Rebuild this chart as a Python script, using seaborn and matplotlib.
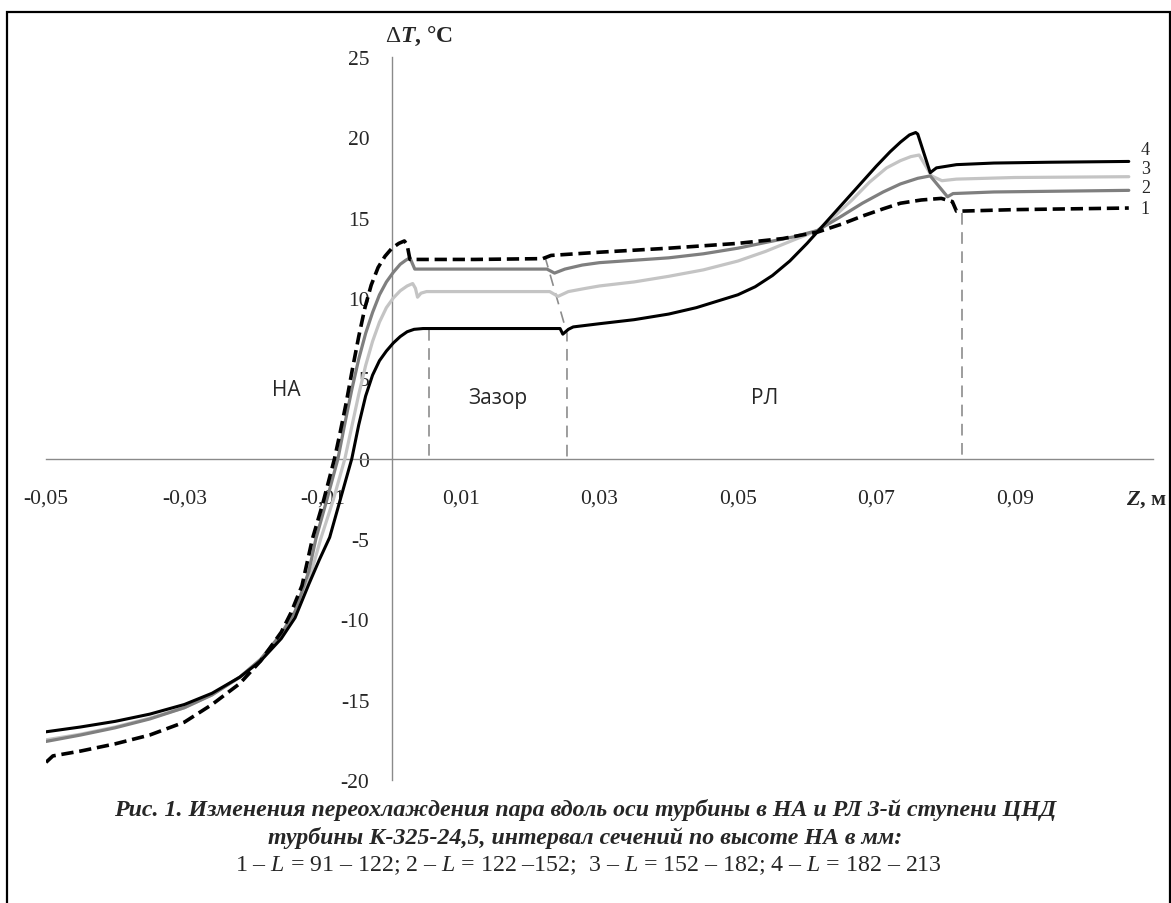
import numpy as np
import pandas as pd
import seaborn as sns
import matplotlib.pyplot as plt
from matplotlib.ticker import FixedLocator, MultipleLocator, FuncFormatter
from matplotlib.patches import Rectangle

# ---- data ----
# curve 1: L = 91-122 (black dashed)
z1 = [-0.050, -0.049, -0.045, -0.040, -0.035, -0.030, -0.026, -0.022, -0.019, -0.016,
      -0.0146, -0.013, -0.0115, -0.0100, -0.0083, -0.0075, -0.0066, -0.0057, -0.0048,
      -0.0039, -0.0030, -0.0020, -0.0010, 0.0000, 0.0010, 0.0018, 0.0022, 0.0026, 0.0040,
      0.0120, 0.0218, 0.0230, 0.0300, 0.0400, 0.0500, 0.0565, 0.0615, 0.0650, 0.0680,
      0.0710, 0.0735, 0.0765, 0.0794, 0.0810, 0.0816, 0.0900, 0.1065]
t1 = [-18.9, -18.5, -18.2, -17.75, -17.2, -16.4, -15.3, -14.0, -12.6, -10.8,
      -9.6, -7.9, -5.0, -2.8, 0.0, 1.6, 3.5, 5.6, 7.6,
      9.4, 10.8, 11.9, 12.6, 13.1, 13.4, 13.55, 13.3, 12.4, 12.4,
      12.4, 12.45, 12.65, 12.85, 13.1, 13.4, 13.7, 14.1, 14.6, 15.1,
      15.55, 15.9, 16.1, 16.2, 16.0, 15.4, 15.5, 15.6]

# curve 2: L = 122-152 (dark grey)
z2 = [-0.050, -0.045, -0.040, -0.035, -0.030, -0.026, -0.022, -0.019, -0.016, -0.014,
      -0.012, -0.0110, -0.0095, -0.0078, -0.0068, -0.0058, -0.0048, -0.0038, -0.0028,
      -0.0018, -0.0008, 0.0002, 0.0012, 0.0020, 0.0026, 0.0033, 0.0050, 0.0150, 0.0224,
      0.0235, 0.0250, 0.0275, 0.0300, 0.0350, 0.0400, 0.0450, 0.0500, 0.0545, 0.0580,
      0.0615, 0.0650, 0.0680, 0.0710, 0.0735, 0.0760, 0.0778, 0.0803, 0.0811, 0.0870,
      0.1065]
t2 = [-17.6, -17.2, -16.75, -16.2, -15.5, -14.7, -13.6, -12.5, -10.9, -9.5,
      -7.0, -5.0, -2.7, 0.0, 2.2, 4.3, 6.2, 7.8, 9.1,
      10.2, 11.0, 11.6, 12.1, 12.35, 12.5, 11.8, 11.8, 11.8, 11.8,
      11.55, 11.8, 12.05, 12.2, 12.35, 12.5, 12.75, 13.1, 13.5, 13.8,
      14.2, 15.1, 15.9, 16.6, 17.1, 17.45, 17.6, 16.3, 16.5, 16.6,
      16.7]

# curve 3: L = 152-182 (light grey)
z3 = [-0.050, -0.045, -0.040, -0.035, -0.030, -0.026, -0.022, -0.019, -0.016, -0.014,
      -0.012, -0.0103, -0.0085, -0.0068, -0.0058, -0.0048, -0.0038, -0.0028, -0.0018,
      -0.0008, 0.0002, 0.0012, 0.0022, 0.0030, 0.0034, 0.0037, 0.0042, 0.0050, 0.0100,
      0.0228, 0.0240, 0.0255, 0.0280, 0.0300, 0.0350, 0.0400, 0.0450, 0.0500, 0.0540,
      0.0580, 0.0615, 0.0640, 0.0665, 0.0690, 0.0715, 0.0735, 0.0750, 0.0762, 0.0780,
      0.0795, 0.0816, 0.0900, 0.1065]
t3 = [-17.5, -17.15, -16.7, -16.15, -15.5, -14.7, -13.6, -12.5, -11.0, -9.7,
      -7.6, -5.0, -2.6, 0.0, 2.0, 4.0, 5.8, 7.3, 8.5,
      9.4, 10.0, 10.45, 10.75, 10.9, 10.6, 10.05, 10.3, 10.4, 10.4,
      10.4, 10.1, 10.4, 10.6, 10.75, 11.0, 11.35, 11.75, 12.3, 12.9,
      13.6, 14.2, 15.1, 16.1, 17.2, 18.1, 18.55, 18.8, 18.9, 17.6,
      17.3, 17.4, 17.5, 17.55]

# curve 4: L = 182-213 (black)
z4 = [-0.050, -0.045, -0.040, -0.035, -0.030, -0.026, -0.022, -0.019, -0.016, -0.014,
      -0.012, -0.0105, -0.0090, -0.0075, -0.0058, -0.0048, -0.0038, -0.0028, -0.0018,
      -0.0008, 0.0002, 0.0012, 0.0022, 0.0032, 0.0045, 0.0150, 0.0243, 0.0247, 0.0255,
      0.0262, 0.0300, 0.0350, 0.0400, 0.0440, 0.0470, 0.0500, 0.0525, 0.0550, 0.0575,
      0.0600, 0.0625, 0.0650, 0.0675, 0.0700, 0.0720, 0.0735, 0.0748, 0.0757, 0.0760,
      0.0778, 0.0787, 0.0816, 0.0870, 0.0950, 0.1065]
t4 = [-17.0, -16.7, -16.35, -15.9, -15.3, -14.6, -13.6, -12.6, -11.2, -9.9,
      -7.8, -6.3, -4.9, -2.6, 0.0, 2.1, 3.9, 5.2, 6.1,
      6.7, 7.2, 7.6, 7.9, 8.05, 8.1, 8.1, 8.1, 7.75, 8.05,
      8.2, 8.4, 8.65, 9.0, 9.4, 9.8, 10.2, 10.7, 11.4, 12.3,
      13.4, 14.6, 15.8, 17.0, 18.2, 19.1, 19.7, 20.15, 20.3, 20.2,
      17.8, 18.1, 18.3, 18.4, 18.45, 18.5]

# boundaries between НА / зазор / РЛ (grey dashed)
b1_z, b1_t = [0.0053, 0.0053], [8.1, 0.0]
b2_z, b2_t = [0.0221, 0.0253, 0.0253], [12.6, 7.8, 0.0]
b3_z, b3_t = [0.0824, 0.0824], [15.3, 0.0]

curve_ids = ["1", "2", "3", "4"]
label_y = [15.6, 16.85, 18.05, 19.25]

x_ticks = [-0.05, -0.03, -0.01, 0.01, 0.03, 0.05, 0.07, 0.09, 0.11]
x_labels = ["-0,05", "-0,03", "-0,01", "0,01", "0,03", "0,05", "0,07", "0,09", ""]

regions = ["НА", "Зазор", "РЛ"]
region_x = [-0.0152, 0.0153, 0.0539]
region_y = [4.3, 3.8, 3.8]

caption1 = "Рис. 1. Изменения переохлаждения пара вдоль оси турбины в НА и РЛ 3-й ступени ЦНД"
caption2 = "турбины К-325-24,5, интервал сечений по высоте НА в мм:"
caption3 = ("1 – $\\mathit{L}$ = 91 – 122; 2 – $\\mathit{L}$ = 122 –152;  "
            "3 – $\\mathit{L}$ = 152 – 182; 4 – $\\mathit{L}$ = 182 – 213")

df = pd.concat([
    pd.DataFrame({"z": z1, "dT": t1, "curve": "1"}),
    pd.DataFrame({"z": z2, "dT": t2, "curve": "2"}),
    pd.DataFrame({"z": z3, "dT": t3, "curve": "3"}),
    pd.DataFrame({"z": z4, "dT": t4, "curve": "4"}),
])

sns.set_theme(style="white")
plt.rcParams["font.family"] = ["Liberation Serif", "DejaVu Serif"]
plt.rcParams["mathtext.fontset"] = "custom"
plt.rcParams["mathtext.rm"] = "Liberation Serif"
plt.rcParams["mathtext.it"] = "Liberation Serif:italic"
plt.rcParams["mathtext.bf"] = "Liberation Serif:bold:italic"

W, H = 1171, 904
fig = plt.figure(figsize=(W / 100, H / 100), dpi=100)
ax = fig.add_axes([46 / W, (H - 781) / H, (1153 - 46) / W, (781 - 58) / H])
ax.set_facecolor("white")

axis_grey = "#8a8a8a"

# boundary lines first (under curves)
for bz, bt in [(b1_z, b1_t), (b2_z, b2_t), (b3_z, b3_t)]:
    ax.plot(bz, bt, color="#8c8c8c", lw=1.2, linestyle=(0, (7, 4.5)), zorder=2)

styles = {
    "1": dict(color="black", lw=2.6, linestyle=(0, (3.4, 1.6))),
    "2": dict(color="#7f7f7f", lw=2.3, linestyle="-"),
    "3": dict(color="#c4c4c4", lw=2.3, linestyle="-"),
    "4": dict(color="black", lw=2.2, linestyle="-"),
}
for cid in ["3", "2", "1", "4"]:
    sns.lineplot(data=df[df["curve"] == cid], x="z", y="dT", sort=False,
                 estimator=None, ax=ax, legend=False, zorder=3, **styles[cid])

ax.set_xlim(-0.05, 0.11)
ax.set_ylim(-20, 25)
ax.set_xlabel("")
ax.set_ylabel("")

for s in ["top", "right"]:
    ax.spines[s].set_visible(False)
ax.spines["left"].set_position(("data", 0))
ax.spines["bottom"].set_position(("data", 0))
for s in ["left", "bottom"]:
    ax.spines[s].set_color(axis_grey)
    ax.spines[s].set_linewidth(1.0)

ax.xaxis.set_major_locator(FixedLocator(x_ticks))
ax.set_xticklabels(x_labels)
ax.xaxis.set_minor_locator(FixedLocator(np.arange(-0.05, 0.1101, 0.004)))
ax.yaxis.set_major_locator(MultipleLocator(5))
ax.yaxis.set_minor_locator(MultipleLocator(1))
ax.yaxis.set_major_formatter(FuncFormatter(lambda v, p: str(int(round(v)))))

ax.tick_params(axis="x", which="major", direction="out", length=6.5, width=1,
               color=axis_grey, pad=15, labelsize=15.5)
ax.tick_params(axis="x", which="minor", direction="in", length=3.6, width=1,
               color=axis_grey)
ax.tick_params(axis="y", which="major", direction="inout", length=8.6, width=1,
               color=axis_grey, pad=12, labelsize=15.5)
ax.tick_params(axis="y", which="minor", direction="in", length=3.6, width=1,
               color=axis_grey)

# curve numbers at right
for cid, ly in zip(curve_ids, label_y):
    ax.text(0.1089, ly, cid, fontsize=13, ha="center", va="center")

# region names
for name, rx, ry in zip(regions, region_x, region_y):
    ax.text(rx, ry, name, fontsize=15, ha="center", va="center",
            family=["Open Sans", "DejaVu Sans"])

# axis titles
fig.text(385 / W, 1 - 36 / H, "$\\Delta\\mathbf{T}$, °C", fontsize=17,
         fontweight="bold", ha="left", va="center")
fig.text(1147 / W, 1 - 500 / H, "$\\mathbf{Z}$, м", fontsize=16,
         fontweight="bold", ha="center", va="center")

# caption
fig.text(585 / W, 1 - 810 / H, caption1, fontsize=17.2, fontweight="bold",
         style="italic", ha="center", va="center")
fig.text(585 / W, 1 - 838 / H, caption2, fontsize=17.2, fontweight="bold",
         style="italic", ha="center", va="center")
fig.text(588 / W, 1 - 866 / H, caption3, fontsize=17.2, ha="center", va="center")

# frame around the whole figure
fig.add_artist(Rectangle((7 / W, -0.01), (1170 - 7) / W, 1.01 - 13 / H,
                         transform=fig.transFigure, fill=False, edgecolor="black",
                         lw=1.6, clip_on=False))

fig.savefig("out.png", dpi=100, facecolor="white")
